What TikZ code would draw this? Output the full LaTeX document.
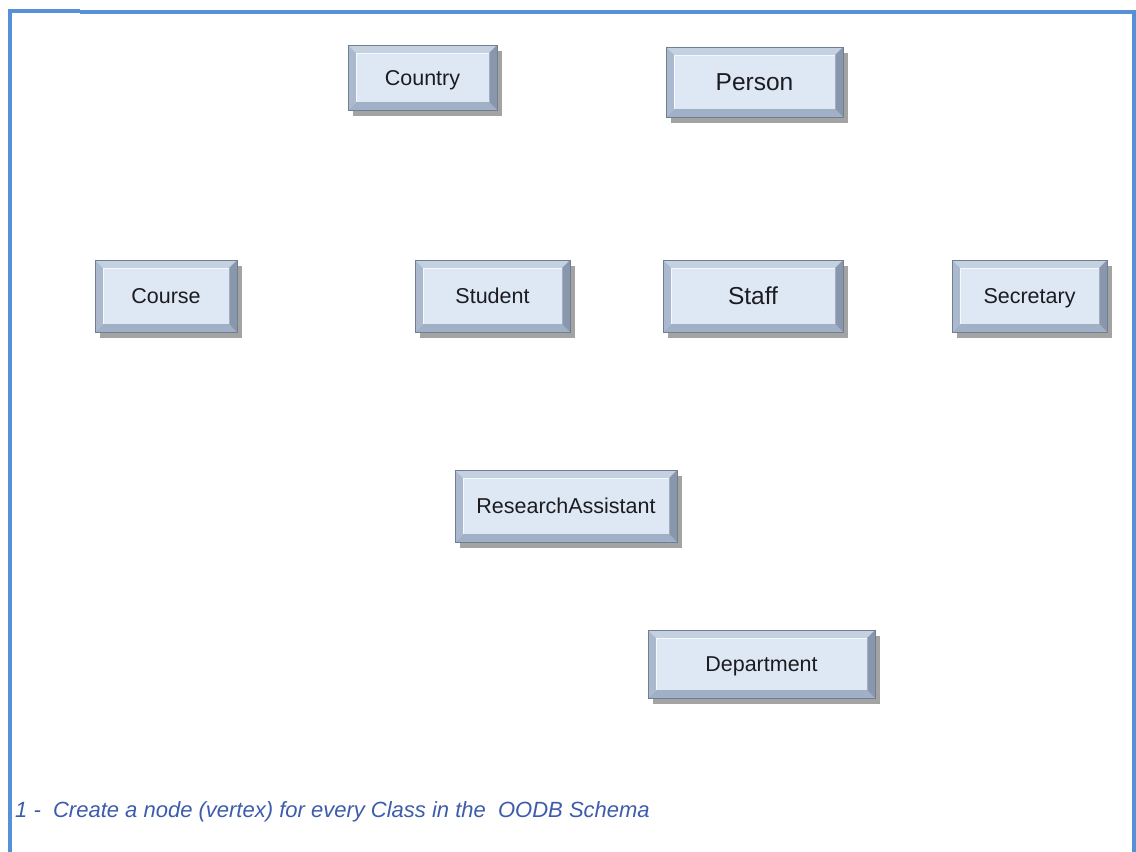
\documentclass[tikz,border=0pt]{standalone}
\usepackage{fontspec}
\setmainfont{Liberation Sans}
\usetikzlibrary{calc,shadows}

\definecolor{frameblue}{RGB}{88,144,216}
\definecolor{captionblue}{RGB}{62,92,172}
\definecolor{boxfill}{RGB}{222,232,245}
\definecolor{boxedge}{RGB}{112,126,146}
\definecolor{bevtopc}{RGB}{196,209,225}
\definecolor{bevleftc}{RGB}{170,185,205}
\definecolor{bevrightc}{RGB}{136,151,172}
\definecolor{bevbotc}{RGB}{160,176,198}
\definecolor{boxtext}{RGB}{28,28,32}

\newcommand{\bw}{8pt}

\tikzset{
  frameline/.style={draw=frameblue, line width=4pt},
  classbox/.style={
    draw=boxedge, line width=0.9pt, fill=boxfill,
    inner sep=0pt, outer sep=0pt, text height=15.5pt, text depth=0pt,
    text=boxtext, font=\fontsize{21.5}{24}\selectfont,
    drop shadow={shadow xshift=5pt, shadow yshift=-6pt, fill=black!60, opacity=0.6},
    path picture={
      % bevelled edges of the button
      \fill[bevtopc] let \p1=(path picture bounding box.north west),
                         \p2=(path picture bounding box.south east) in
        (\x1,\y1) -- (\x2,\y1) -- (\x2-\bw,\y1-\bw) -- (\x1+\bw,\y1-\bw) -- cycle;
      \fill[bevbotc] let \p1=(path picture bounding box.north west),
                         \p2=(path picture bounding box.south east) in
        (\x1,\y2) -- (\x2,\y2) -- (\x2-\bw,\y2+\bw) -- (\x1+\bw,\y2+\bw) -- cycle;
      \fill[bevleftc] let \p1=(path picture bounding box.north west),
                          \p2=(path picture bounding box.south east) in
        (\x1,\y1) -- (\x1+\bw,\y1-\bw) -- (\x1+\bw,\y2+\bw) -- (\x1,\y2) -- cycle;
      \fill[bevrightc] let \p1=(path picture bounding box.north west),
                           \p2=(path picture bounding box.south east) in
        (\x2,\y1) -- (\x2-\bw,\y1-\bw) -- (\x2-\bw,\y2+\bw) -- (\x2,\y2) -- cycle;
      % light rim just inside the bevel
      \draw[white!70!boxfill, line width=1pt] let \p1=(path picture bounding box.north west),
                           \p2=(path picture bounding box.south east) in
        (\x1+\bw,\y2+\bw) -- (\x1+\bw,\y1-\bw) -- (\x2-\bw,\y1-\bw);
      \draw[bevrightc!70!boxfill, line width=0.8pt] let \p1=(path picture bounding box.north west),
                           \p2=(path picture bounding box.south east) in
        (\x2-\bw,\y1-\bw) -- (\x2-\bw,\y2+\bw) -- (\x1+\bw,\y2+\bw);
    }
  },
  bigtext/.style={font=\fontsize{24.5}{27}\selectfont, text height=17.5pt},
  caption/.style={text=captionblue, font=\fontsize{22}{25}\selectfont\itshape, inner sep=0pt}
}

\begin{document}
\begin{tikzpicture}[x=1pt, y=-1pt]
  \useasboundingbox[fill=white] (0,0) rectangle (1136,852);

  % outer frame (open at the bottom)
  \draw[frameline, line cap=butt, line join=miter] (10.3,852) -- (10.3,11.3) -- (80,11.3);
  \draw[frameline, line cap=butt, line join=miter] (80,12) -- (1133.8,12) -- (1133.8,852);

  % one node per class
  \node[classbox, minimum width=149pt, minimum height=65pt] (country)  at (422.5,77.5) {Country};
  \node[classbox, bigtext, minimum width=177pt, minimum height=70pt] (person) at (754.5,82) {Person};
  \node[classbox, minimum width=142pt, minimum height=72pt] (course)   at (166,296)    {Course};
  \node[classbox, minimum width=155pt, minimum height=72pt] (student)  at (492.5,296)  {Student};
  \node[classbox, bigtext, minimum width=180pt, minimum height=72pt] (staff) at (753,296) {Staff};
  \node[classbox, minimum width=155pt, minimum height=72pt] (secretary) at (1029.5,296) {Secretary};
  \node[classbox, minimum width=222pt, minimum height=72pt] (ra)       at (566,506)    {ResearchAssistant};
  \node[classbox, minimum width=227pt, minimum height=68pt] (dept)     at (761.5,664)  {Department};

  % step caption
  \node[caption, anchor=base west] (step1) at (15,817)
    {1 -\ \ Create a node (vertex) for every Class in the\ \ OODB Schema};
\end{tikzpicture}
\end{document}
